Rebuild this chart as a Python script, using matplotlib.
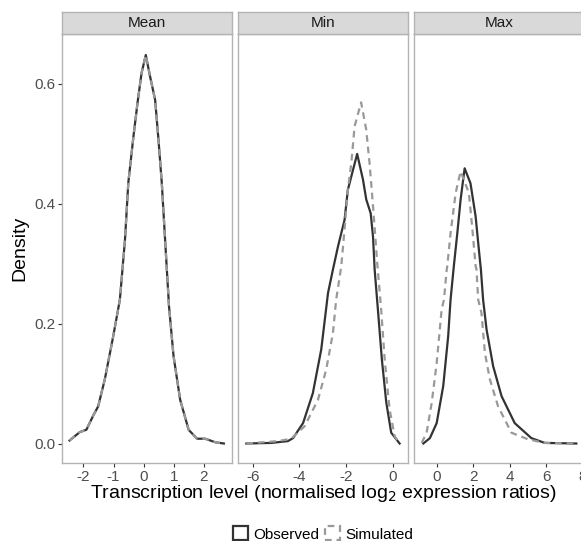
import matplotlib
matplotlib.use("Agg")
import matplotlib.pyplot as plt
import matplotlib.patches as mpatches

plt.rcParams['font.family'] = ['Liberation Sans', 'DejaVu Sans']

panels = ["Mean", "Min", "Max"]

# Mean panel (observed and simulated almost identical)
mean_obs_x = [-2.46, -2.12, -1.9, -1.68, -1.51, -1.29, -1.01, -0.79, -0.62, -0.51, -0.34, -0.2, -0.07, 0.07,
              0.2, 0.38, 0.49, 0.6, 0.71, 0.84, 0.99, 1.21, 1.49, 1.77, 2.04, 2.38, 2.66]
mean_obs_y = [0.005, 0.019, 0.023, 0.046, 0.062, 0.107, 0.179, 0.24, 0.34, 0.435, 0.512, 0.57, 0.618, 0.648,
              0.615, 0.573, 0.507, 0.435, 0.34, 0.229, 0.146, 0.073, 0.023, 0.008, 0.008, 0.002, 0.0]
mean_sim_x = mean_obs_x
mean_sim_y = mean_obs_y

# Min panel
min_obs_x = [-6.27, -5.2, -4.49, -4.27, -3.84, -3.42, -3.06, -2.77, -2.56, -2.34, -2.06, -1.92, -1.52,
             -1.27, -1.13, -0.94, -0.84, -0.77, -0.63, -0.46, -0.27, -0.06, 0.3]
min_obs_y = [0.0, 0.001, 0.004, 0.009, 0.034, 0.084, 0.157, 0.251, 0.29, 0.329, 0.373, 0.423, 0.483,
             0.44, 0.407, 0.384, 0.345, 0.29, 0.223, 0.14, 0.068, 0.018, 0.0]
min_sim_x = [-6.27, -4.92, -4.35, -3.77, -3.2, -2.85, -2.56, -2.42, -2.2, -2.09, -1.92, -1.77, -1.63, -1.35,
             -1.13, -0.99, -0.84, -0.66, -0.49, -0.34, -0.13, 0.09, 0.3]
min_sim_y = [0.0, 0.004, 0.008, 0.029, 0.073, 0.123, 0.184, 0.24, 0.296, 0.345, 0.423, 0.468, 0.529, 0.569,
             0.523, 0.468, 0.396, 0.301, 0.223, 0.14, 0.057, 0.012, 0.0]

# Max panel
max_obs_x = [-0.73, -0.37, 0.0, 0.36, 0.63, 0.76, 0.94, 1.13, 1.31, 1.53, 1.85, 2.13, 2.31, 2.42, 2.54,
             2.73, 3.09, 3.55, 4.27, 5.18, 5.91, 7.64]
max_obs_y = [0.0, 0.009, 0.034, 0.096, 0.179, 0.24, 0.296, 0.351, 0.407, 0.459, 0.434, 0.379, 0.323, 0.29,
             0.24, 0.19, 0.129, 0.079, 0.034, 0.009, 0.001, 0.0]
max_sim_x = [-0.82, -0.55, -0.27, 0.0, 0.27, 0.4, 0.55, 0.58, 0.76, 1.04, 1.31, 1.76, 1.94, 2.13, 2.18,
             2.27, 2.45, 2.64, 2.91, 3.36, 4.09, 5.0, 5.91, 7.64]
max_sim_y = [0.001, 0.018, 0.068, 0.134, 0.223, 0.24, 0.29, 0.296, 0.351, 0.418, 0.454, 0.418, 0.362, 0.296,
             0.29, 0.24, 0.218, 0.151, 0.107, 0.062, 0.018, 0.007, 0.001, 0.0]

data = {
    "Mean": (mean_obs_x, mean_obs_y, mean_sim_x, mean_sim_y),
    "Min": (min_obs_x, min_obs_y, min_sim_x, min_sim_y),
    "Max": (max_obs_x, max_obs_y, max_sim_x, max_sim_y),
}
xlims = {"Mean": (-2.71, 2.93), "Min": (-6.63, 0.66), "Max": (-1.24, 8.06)}
xticks = {"Mean": [-2, -1, 0, 1, 2], "Min": [-6, -4, -2, 0], "Max": [0, 2, 4, 6, 8]}
yticks = [0.0, 0.2, 0.4, 0.6]
ylim = (-0.0325, 0.683)

W, H = 581, 541
fig = plt.figure(figsize=(W / 100, H / 100), dpi=100)

lefts = [62, 238, 414]
pw = 170
top_px, bot_px = 34, 463
strip_h = 22
border = "#B3B3B3"
obs_col = "#333333"
sim_col = "#999999"

for i, name in enumerate(panels):
    ax = fig.add_axes([lefts[i] / W, 1 - bot_px / H, pw / W, (bot_px - top_px) / H])
    ox, oy, sx, sy = data[name]
    ax.plot(ox, oy, color=obs_col, lw=1.6, solid_joinstyle='round')
    ax.plot(sx, sy, color=sim_col, lw=1.6, linestyle=(0, (3, 2.2)))
    ax.set_xlim(*xlims[name])
    ax.set_ylim(*ylim)
    ax.set_xticks(xticks[name])
    ax.set_xticklabels([str(t) for t in xticks[name]])
    ax.set_yticks(yticks)
    ax.tick_params(colors="#333333", labelcolor="#4D4D4D", labelsize=11, length=3, width=0.8, pad=2)
    if i == 0:
        ax.set_yticklabels(["0.0", "0.2", "0.4", "0.6"])
    else:
        ax.set_yticklabels([])
        ax.tick_params(axis='y', length=0)
    for sp in ax.spines.values():
        sp.set_color(border)
        sp.set_linewidth(1.0)
    # strip
    sax = fig.add_axes([lefts[i] / W, 1 - top_px / H, pw / W, strip_h / H])
    sax.set_xticks([]); sax.set_yticks([])
    sax.set_facecolor("#D9D9D9")
    for sp in sax.spines.values():
        sp.set_color(border)
        sp.set_linewidth(1.0)
    sax.text(0.5, 0.5, name, ha='center', va='center', fontsize=11, color="#1A1A1A",
             transform=sax.transAxes)

fig.text(323 / W, 1 - 494 / H, "Transcription level (normalised log$_2$ expression ratios)",
         ha='center', va='center', fontsize=14, color='black')
fig.text(20 / W, 1 - 248 / H, "Density", rotation=90, ha='center', va='center', fontsize=14,
         color='black')

h_obs = mpatches.Patch(facecolor='white', edgecolor=obs_col, linewidth=1.6, label="Observed")
h_sim = mpatches.Patch(facecolor='white', edgecolor=sim_col, linewidth=1.6, linestyle=(0, (3, 2.2)),
                       label="Simulated")
fig.legend(handles=[h_obs, h_sim], loc='center', bbox_to_anchor=(323 / W, 1 - 534 / H), ncol=2,
           frameon=False, fontsize=11, handlelength=1.0, handleheight=1.0, handletextpad=0.3,
           columnspacing=0.4)

fig.savefig("out.png", dpi=100)
